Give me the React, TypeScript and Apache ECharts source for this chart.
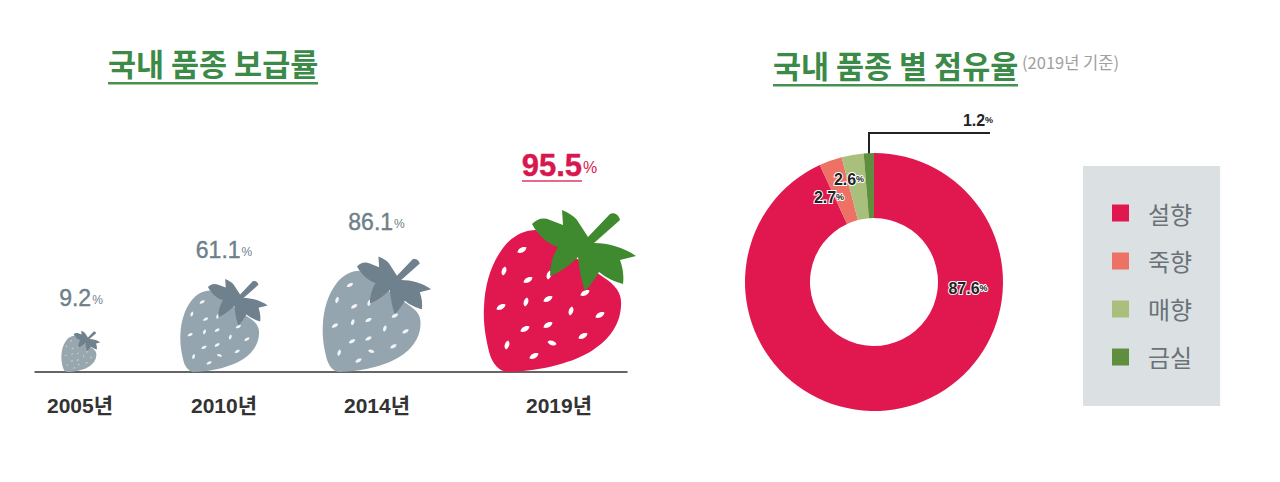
import React, { useEffect, useRef } from "react";
import * as echarts from "echarts";

const years = ["2005년", "2010년", "2014년", "2019년"];
const adoption = [9.2, 61.1, 86.1, 95.5];

const varieties = ["설향", "죽향", "매향", "금실"];
const shares = [87.6, 2.7, 2.6, 1.2];

const KR = '"Noto Sans CJK KR"';
const LAT = '"Liberation Sans", "Noto Sans CJK KR"';

const BODY =
  "M-46 0C-54 -1 -60 -8 -63 -17C-67 -32 -70 -48 -69 -65C-68 -88 -62 -108 -50 -124C-41 -136 -29 -142 -17 -142L50 -95C64 -86 69 -78 68 -66C67 -46 55 -32 40 -22C22 -10 -10 -1 -46 0Z";
const CALYX =
  "M-21 -148C-16 -153 -10 -155 -3 -152L10 -147L9 -162C16 -159 21 -156 24 -152L35 -135L57 -158C61 -160 66 -157 67 -152L41 -129C55 -129 70 -125 83 -116L67 -112C70 -104 71 -96 70 -88C62 -90 52 -95 46 -100C42 -93 37 -86 32 -81C28 -92 26 -104 25 -115C17 -107 8 -100 -3 -96C-3 -107 0 -117 5 -125C-3 -127 -14 -135 -21 -148Z";
const seedMarks: [number, number, number][] = [
  [-31, -122, 1], [-49, -101, 0], [-25, -92, 1], [-52, -65, 1], [-27, -70, 0], [-5, -73, 1],
  [18, -61, 0], [47, -57, 1], [-28, -43, 1], [-5, -47, 1], [30, -36, 1], [-46, -27, 0],
  [-1, -29, 2], [-19, -16, 1], [32, -79, 1], [-4, -97, 0],
];
const seedPath = seedMarks
  .map(([x, y, k]) =>
    k === 1
      ? `M${x - 4.5} ${y + 2.5}C${x - 4} ${y - 1} ${x} ${y - 4} ${x + 4.5} ${y - 2.5}C${x + 4} ${y + 1} ${x} ${y + 4} ${x - 4.5} ${y + 2.5}Z`
      : k === 2
      ? `M${x - 4.5} ${y - 1}C${x - 2} ${y - 4} ${x + 3} ${y - 2} ${x + 4.5} ${y + 1}C${x + 2} ${y + 4} ${x - 3} ${y + 2} ${x - 4.5} ${y - 1}Z`
      : `M${x - 1} ${y + 4.5}C${x - 4} ${y + 2} ${x - 2} ${y - 3} ${x + 1} ${y - 4.5}C${x + 4} ${y - 2} ${x + 2} ${y + 3} ${x - 1} ${y + 4.5}Z`
  )
  .join("");

const fruitStyle = [
  { dx: -30, scale: 0.255, body: "#98a6ae", leaf: "#6e818c", seed: "#c5ced3", labelDx: -28, labelY: 298, text: "#6e7f8a", size: 23, pct: 12 },
  { dx: -37, scale: 0.574, body: "#95a5af", leaf: "#6e818c", seed: "#f2f4f5", labelDx: -33, labelY: 250, text: "#6e7f8a", size: 23, pct: 12 },
  { dx: -33, scale: 0.713, body: "#95a5af", leaf: "#6e818c", seed: "#f2f4f5", labelDx: -28.5, labelY: 222, text: "#6e7f8a", size: 23, pct: 12 },
  { dx: 0, scale: 1, body: "#e0184f", leaf: "#3f8a2e", seed: "#ffffff", labelDx: 6.5, labelY: 165, text: "#d8174f", size: 31, pct: 16 },
];

function renderFruit(params: any, api: any) {
  const i = params.dataIndex;
  const st = fruitStyle[i];
  const base = api.coord([i, 0]);
  const cx = base[0] + st.dx;
  const children: any[] = [
    {
      type: "group",
      x: cx,
      y: base[1],
      scaleX: st.scale,
      scaleY: st.scale,
      children: [
        { type: "path", shape: { pathData: BODY }, style: { fill: st.body } },
        { type: "path", shape: { pathData: seedPath }, style: { fill: st.seed } },
        { type: "path", shape: { pathData: CALYX }, style: { fill: st.leaf } },
      ],
    },
    {
      type: "text",
      x: base[0] + st.labelDx,
      y: st.labelY,
      style: {
        text: `{v|${api.value(1).toFixed(1)}}{p|%}`,
        align: "center",
        verticalAlign: "middle",
        rich: {
          v: { fontFamily: LAT, fontSize: st.size, fontWeight: i === 3 ? "bold" : "normal", fill: st.text, stroke: st.text, lineWidth: 0.4 },
          p: { fontFamily: LAT, fontSize: st.pct, fill: st.text, padding: [4, 0, 0, 1] },
        },
      },
    },
  ];
  if (i === 3) {
    children.push({
      type: "rect",
      shape: { x: base[0] - 31, y: 180, width: 60, height: 2 },
      style: { fill: "#e56a8c" },
    });
  }
  return { type: "group", children };
}

function pieLabel(v: number) {
  return `{v|${v.toFixed(1)}}{p|%}`;
}

const sliceColors = ["#e0184f", "#ee7166", "#a9bf7c", "#5f8f3e"];
const labelSpots = [
  { x: 968, y: 288 },
  { x: 829, y: 197 },
  { x: 849, y: 179 },
  { x: 978, y: 120 },
];

const yearLabel = (padding: number[]) => ({
  fontFamily: LAT,
  fontSize: 21,
  fontWeight: "bold",
  color: "#333333",
  padding,
});

export default function App() {
  const ref = useRef<HTMLDivElement>(null);
  useEffect(() => {
    document.body.style.margin = "0";
    const chart = echarts.init(ref.current!, null, { renderer: "svg" });
    chart.setOption({
      animation: false,
      backgroundColor: "#ffffff",
      title: [
        { text: "국내 품종 보급률", left: 108, top: 47.5, padding: 0, textStyle: { fontFamily: KR, fontSize: 30.5, fontWeight: "bold", color: "#3b8a47" } },
        { text: "국내 품종 별 점유율", left: 773, top: 49.5, padding: 0, textStyle: { fontFamily: KR, fontSize: 30.5, fontWeight: "bold", color: "#3b8a47" } },
        { text: "(2019년 기준)", left: 1022, top: 53.5, padding: 0, textStyle: { fontFamily: KR, fontSize: 16.5, fontWeight: "normal", color: "#a0a0a0" } },
      ],
      grid: { left: 35, width: 592, top: 100, height: 272 },
      xAxis: {
        type: "category",
        data: years,
        axisTick: { show: false },
        axisLine: { lineStyle: { color: "#333333", width: 1.5 } },
        axisLabel: {
          margin: 23,
          formatter: (v: string) => `{${"abcd"[years.indexOf(v)]}|${v}}`,
          rich: {
            a: yearLabel([0, 58, 0, 0]),
            b: yearLabel([0, 66, 0, 0]),
            c: yearLabel([0, 56, 0, 0]),
            d: yearLabel([0, 0, 0, 12]),
          },
        },
      },
      yAxis: { type: "value", min: 0, max: 100, show: false, splitLine: { show: false } },
      legend: {
        data: varieties,
        orient: "vertical",
        left: 1083,
        top: 166,
        padding: [35, 28, 37, 29],
        backgroundColor: "#dbe0e3",
        icon: "rect",
        itemWidth: 17,
        itemHeight: 17,
        itemGap: 24,
        textStyle: { fontFamily: KR, fontSize: 24, color: "#6b7278", padding: [0, 0, 0, 14] },
      },
      series: [
        {
          type: "custom",
          coordinateSystem: "cartesian2d",
          renderItem: renderFruit,
          encode: { x: 0, y: 1 },
          data: adoption.map((v, i) => [i, v]),
          silent: true,
        },
        {
          type: "pie",
          center: [874, 282],
          radius: [64, 129],
          startAngle: 90,
          clockwise: true,
          avoidLabelOverlap: false,
          data: varieties.map((name, i) => ({
            name,
            value: shares[i],
            itemStyle: { color: sliceColors[i] },
            labelLine: { show: i === 3, lineStyle: { color: "#222222", width: 2 } },
          })),
          label: {
            show: true,
            position: "outside",
            formatter: (p: any) => pieLabel(p.value),
            rich: {
              v: { fontFamily: LAT, fontSize: 16, fontWeight: "bold", color: "#222222", textBorderColor: "#ffffff", textBorderWidth: 2 },
              p: { fontFamily: LAT, fontSize: 9, fontWeight: "bold", color: "#222222", textBorderColor: "#ffffff", textBorderWidth: 2 },
            },
          },
          labelLayout: (p: any) => ({
            x: labelSpots[p.dataIndex].x,
            y: labelSpots[p.dataIndex].y,
            align: "center",
            verticalAlign: "middle",
            ...(p.dataIndex === 3
              ? { labelLinePoints: [[869, 165], [869, 133], [990, 133]] }
              : {}),
          }),
        },
      ],
      graphic: [
        { type: "rect", shape: { x: 108, y: 82, width: 210, height: 2.5 }, style: { fill: "#46914f" } },
        { type: "rect", shape: { x: 773, y: 84, width: 245, height: 2.5 }, style: { fill: "#46914f" } },
      ],
    });
    return () => chart.dispose();
  }, []);
  return (
    <div
      ref={ref}
      style={{ width: 1280, height: 482, position: "fixed", left: 0, top: 0 }}
    />
  );
}
